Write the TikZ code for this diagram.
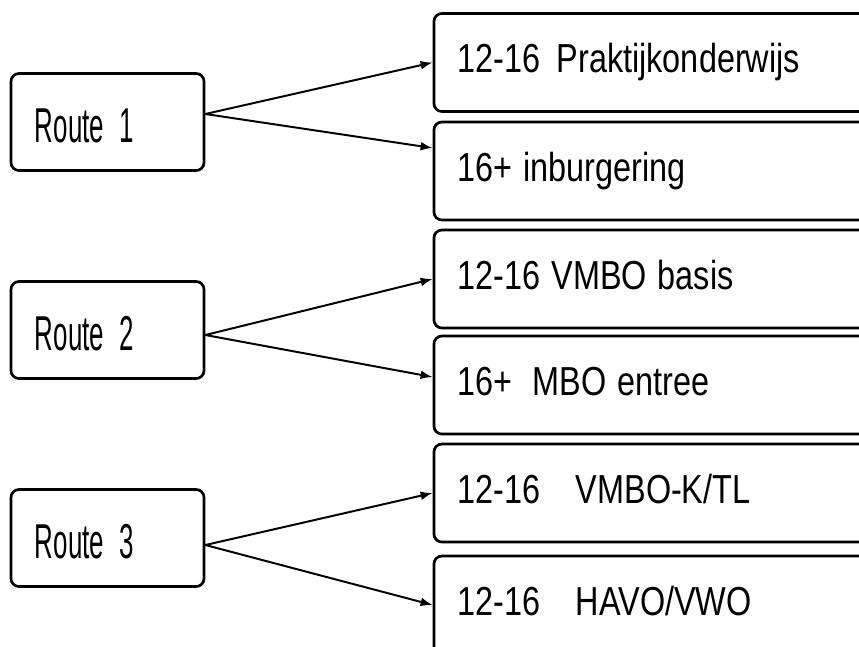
\documentclass[tikz,border=0pt]{standalone}
\usepackage{fontspec}
\setmainfont{Liberation Sans}[FakeStretch=0.8]
\newfontfamily\routefont{Liberation Sans}[FakeStretch=0.53]
\usepackage{tikz}
\usetikzlibrary{arrows.meta}
\usetikzlibrary{positioning}
\newcommand{\routetext}{\routefont\fontsize{34.8}{40}\selectfont\spaceskip=0.38cm\relax}
\newcommand{\tracktext}{\fontsize{28.8}{34}\selectfont\spaceskip=0.27cm\relax}
\tikzset{>=latex}
\tikzstyle{route} = [draw, rounded corners = 0.2cm, line width = 1.9pt, text width = 3.625cm, inner xsep = 0.6cm, align = flush left, minimum height = 2.425cm, text height = 1cm, text depth = 0cm, font = \routetext]
\tikzstyle{track} = [draw, rounded corners = 0.2cm, line width = 1.9pt, text width = 9.95cm, inner xsep = 0.6cm, align = flush left, minimum height = 2.45cm, text height = 0.75cm, text depth = 0.25cm, font = \tracktext]
\tikzstyle{link} = [-{Latex[length=0.3cm, width=0.22cm]}, line width = 1.4pt]

\begin{document}
\begin{tikzpicture}[x = 0.025cm, y = -0.025cm]
\useasboundingbox (0, 0) rectangle (859, 646);
\clip (0, 0) rectangle (859, 646);
\node [route] (R1) at (107.5, 122) {Route 1};
\node [route] (R2) at (107.5, 330) {Route 2};
\node [route] (R3) at (107.5, 538) {Route 3};
\node [track] (P) at (657, 62.5) {12-16\hspace{0.4cm}Praktijkonderwijs};
\node [track] (I) at (657, 171) {16+ inburgering};
\node [track] (VB) at (657, 279) {12-16 VMBO basis};
\node [track] (ME) at (657, 385) {16+\hspace{0.5cm}MBO entree};
\node [track] (VK) at (657, 493) {12-16\hspace{0.875cm}VMBO-K/TL};
\node [track] (HV) at (657, 605) {12-16\hspace{0.875cm}HAVO/VWO};
\draw [link] ([yshift = 0.2cm] R1.east) to (P.west);
\draw [link] ([yshift = 0.2cm] R1.east) to ([yshift = 0.575cm] I.west);
\draw [link] ([yshift = -0.125cm] R2.east) to (VB.west);
\draw [link] ([yshift = -0.125cm] R2.east) to ([yshift = 0.2cm] ME.west);
\draw [link] ([yshift = -0.175cm] R3.east) to (VK.west);
\draw [link] ([yshift = -0.175cm] R3.east) to (HV.west);
\end{tikzpicture}
\end{document}
